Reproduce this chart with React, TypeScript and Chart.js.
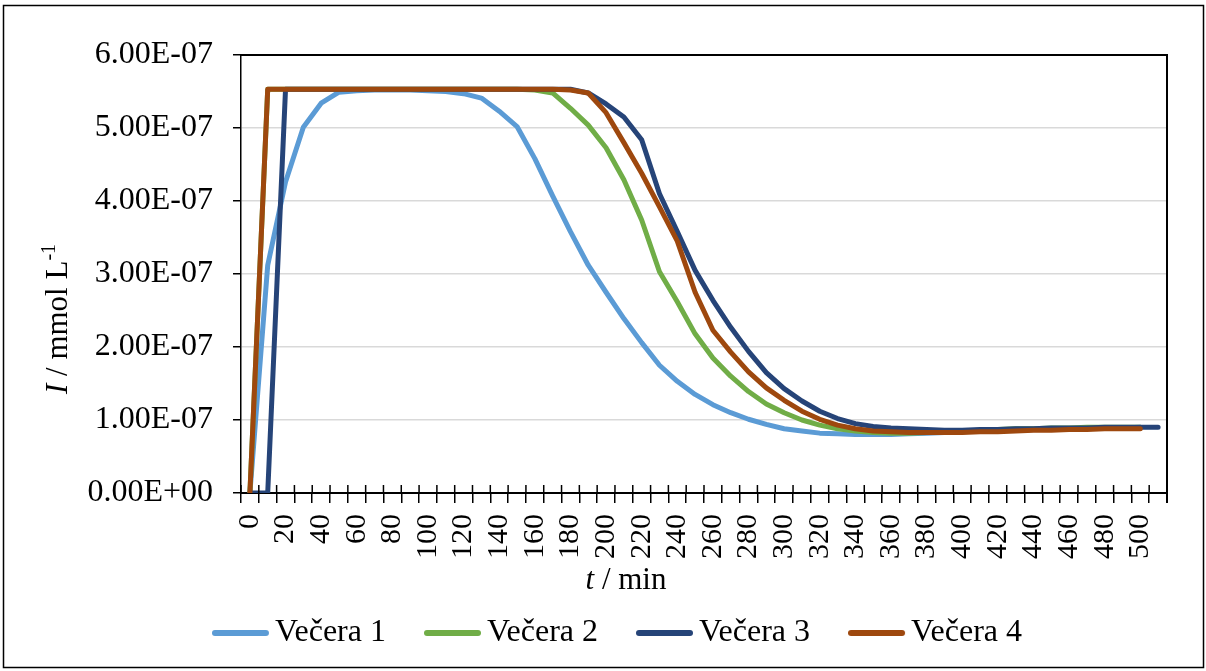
import React, { useEffect, useRef } from 'react';
import { Chart, registerables } from 'chart.js';

Chart.register(...registerables);

const timeLabels = [
  '0', '10', '20', '30', '40', '50', '60', '70', '80', '90',
  '100', '110', '120', '130', '140', '150', '160', '170', '180', '190',
  '200', '210', '220', '230', '240', '250', '260', '270', '280', '290',
  '300', '310', '320', '330', '340', '350', '360', '370', '380', '390',
  '400', '410', '420', '430', '440', '450', '460', '470', '480', '490',
  '500', '510',
];

const vecera1 = [
  0, 3.12e-7, 4.26e-7, 5.01e-7, 5.34e-7, 5.49e-7, 5.51e-7, 5.52e-7, 5.52e-7, 5.52e-7,
  5.51e-7, 5.5e-7, 5.47e-7, 5.41e-7, 5.23e-7, 5.02e-7, 4.58e-7, 4.07e-7, 3.58e-7, 3.12e-7,
  2.75e-7, 2.39e-7, 2.06e-7, 1.75e-7, 1.53e-7, 1.35e-7, 1.21e-7, 1.1e-7, 1.01e-7, 0.94e-7,
  0.88e-7, 0.85e-7, 0.82e-7, 0.81e-7, 0.8e-7, 0.8e-7, 0.8e-7, 0.81e-7, 0.82e-7, 0.83e-7,
  0.84e-7, 0.85e-7, 0.86e-7, 0.86e-7, 0.87e-7, 0.87e-7, 0.88e-7, 0.88e-7, 0.89e-7, 0.89e-7,
  0.9e-7,
];

const vecera2 = [
  0, 5.53e-7, 5.53e-7, 5.53e-7, 5.53e-7, 5.53e-7, 5.53e-7, 5.53e-7, 5.53e-7, 5.53e-7,
  5.53e-7, 5.53e-7, 5.53e-7, 5.53e-7, 5.53e-7, 5.53e-7, 5.52e-7, 5.48e-7, 5.27e-7, 5.04e-7,
  4.73e-7, 4.29e-7, 3.74e-7, 3.03e-7, 2.62e-7, 2.18e-7, 1.85e-7, 1.6e-7, 1.39e-7, 1.22e-7,
  1.1e-7, 1.0e-7, 0.93e-7, 0.88e-7, 0.85e-7, 0.83e-7, 0.82e-7, 0.82e-7, 0.83e-7, 0.84e-7,
  0.85e-7, 0.86e-7, 0.87e-7, 0.88e-7, 0.88e-7, 0.89e-7, 0.89e-7, 0.9e-7, 0.9e-7, 0.9e-7,
  0.9e-7,
];

const vecera3 = [
  0, 0, 5.53e-7, 5.53e-7, 5.53e-7, 5.53e-7, 5.53e-7, 5.53e-7, 5.53e-7, 5.53e-7,
  5.53e-7, 5.53e-7, 5.53e-7, 5.53e-7, 5.53e-7, 5.53e-7, 5.53e-7, 5.53e-7, 5.53e-7, 5.48e-7,
  5.33e-7, 5.15e-7, 4.84e-7, 4.1e-7, 3.58e-7, 3.05e-7, 2.64e-7, 2.27e-7, 1.94e-7, 1.65e-7,
  1.43e-7, 1.26e-7, 1.12e-7, 1.02e-7, 0.95e-7, 0.91e-7, 0.89e-7, 0.88e-7, 0.87e-7, 0.86e-7,
  0.86e-7, 0.87e-7, 0.87e-7, 0.88e-7, 0.88e-7, 0.89e-7, 0.89e-7, 0.89e-7, 0.9e-7, 0.9e-7,
  0.9e-7, 0.9e-7,
];

const vecera4 = [
  0, 5.53e-7, 5.53e-7, 5.53e-7, 5.53e-7, 5.53e-7, 5.53e-7, 5.53e-7, 5.53e-7, 5.53e-7,
  5.53e-7, 5.53e-7, 5.53e-7, 5.53e-7, 5.53e-7, 5.53e-7, 5.53e-7, 5.53e-7, 5.52e-7, 5.48e-7,
  5.21e-7, 4.8e-7, 4.38e-7, 3.92e-7, 3.45e-7, 2.75e-7, 2.23e-7, 1.93e-7, 1.66e-7, 1.44e-7,
  1.27e-7, 1.12e-7, 1.01e-7, 0.93e-7, 0.88e-7, 0.85e-7, 0.84e-7, 0.83e-7, 0.83e-7, 0.83e-7,
  0.83e-7, 0.84e-7, 0.84e-7, 0.85e-7, 0.86e-7, 0.86e-7, 0.87e-7, 0.87e-7, 0.88e-7, 0.88e-7,
  0.88e-7,
];

const seriesNames = ['Večera 1', 'Večera 2', 'Večera 3', 'Večera 4'];
const seriesData = [vecera1, vecera2, vecera3, vecera4];
const seriesColors = ['#5B9BD5', '#70AD47', '#264478', '#9E480E'];

const yMin = 0;
const yMax = 6e-7;
const yStep = 1e-7;

const FONT = '"Liberation Serif", "Times New Roman", serif';

const fmtExp = (v: number) => {
  const s = Number(v).toExponential(2);
  const [m, e] = s.split('e');
  const sign = e[0] === '-' ? '-' : '+';
  const digits = e.replace(/^[+-]/, '').padStart(2, '0');
  return `${m}E${sign}${digits}`;
};

const makeLegendSwatch = (color: string) => {
  const c = document.createElement('canvas');
  c.width = 64;
  c.height = 10;
  const g = c.getContext('2d')!;
  g.strokeStyle = color;
  g.lineWidth = 6;
  g.lineCap = 'round';
  g.beginPath();
  g.moveTo(3, 5);
  g.lineTo(54, 5);
  g.stroke();
  return c;
};

const drawRich = (ctx: CanvasRenderingContext2D, parts: { t: string; f: string; dy: number }[], x0: number, y0: number) => {
  let x = x0;
  for (const p of parts) {
    ctx.font = p.f;
    ctx.fillText(p.t, x, y0 + p.dy);
    x += ctx.measureText(p.t).width;
  }
};

const measureRich = (ctx: CanvasRenderingContext2D, parts: { t: string; f: string; dy: number }[]) => {
  let w = 0;
  for (const p of parts) {
    ctx.font = p.f;
    w += ctx.measureText(p.t).width;
  }
  return w;
};

const decorPlugin = {
  id: 'decor',
  beforeDraw(chart: any) {
    const { ctx, width, height } = chart;
    ctx.save();
    ctx.fillStyle = '#ffffff';
    ctx.fillRect(0, 0, width, height);
    ctx.restore();
  },
  afterDraw(chart: any) {
    const { ctx, chartArea: a } = chart;
    ctx.save();
    ctx.strokeStyle = '#000';
    // outer frame
    ctx.lineWidth = 1.5;
    ctx.strokeRect(3.5, 5.5, 1200, 662);
    // plot area top & right border
    ctx.lineWidth = 2;
    ctx.beginPath();
    ctx.moveTo(a.left, a.top);
    ctx.lineTo(a.right, a.top);
    ctx.lineTo(a.right, a.bottom + 10);
    ctx.stroke();
    // upward parts of the x tick marks
    const xs = chart.scales.x;
    const n = xs.ticks.length;
    const w = (xs.right - xs.left) / n;
    ctx.lineWidth = 1.5;
    ctx.beginPath();
    for (let i = 0; i <= n; i++) {
      const x = xs.left + i * w;
      ctx.moveTo(x, a.bottom - 8);
      ctx.lineTo(x, a.bottom);
    }
    ctx.stroke();

    ctx.fillStyle = '#000';
    ctx.textBaseline = 'alphabetic';
    ctx.textAlign = 'left';
    // y axis title
    const yParts = [
      { t: 'I', f: `italic 31px ${FONT}`, dy: 0 },
      { t: ' / mmol L', f: `31px ${FONT}`, dy: 0 },
      { t: '-1', f: `20px ${FONT}`, dy: -12 },
    ];
    const yw = measureRich(ctx, yParts);
    ctx.save();
    ctx.translate(67, 319);
    ctx.rotate(-Math.PI / 2);
    drawRich(ctx, yParts, -yw / 2, 0);
    ctx.restore();
    // x axis title
    const xParts = [
      { t: 't', f: `italic 31px ${FONT}`, dy: 0 },
      { t: ' / min', f: `31px ${FONT}`, dy: 0 },
    ];
    const xw = measureRich(ctx, xParts);
    drawRich(ctx, xParts, 626 - xw / 2, 589);
    ctx.restore();
  },
};

export default function App() {
  const canvasRef = useRef<HTMLCanvasElement | null>(null);

  useEffect(() => {
    document.body.style.margin = '0';
    const canvas = canvasRef.current;
    if (!canvas) return;
    Chart.defaults.font.family = FONT;

    const swatches = seriesColors.map(makeLegendSwatch);

    const chart = new Chart(canvas, {
      type: 'line',
      data: {
        labels: timeLabels,
        datasets: seriesNames.map((name, i) => ({
          label: name,
          data: seriesData[i],
          borderColor: seriesColors[i],
          backgroundColor: seriesColors[i],
          borderWidth: 5,
          pointRadius: 0,
          pointHoverRadius: 0,
          tension: 0,
          fill: false,
          borderJoinStyle: 'round' as const,
          borderCapStyle: 'round' as const,
          order: seriesNames.length - i,
        })),
      },
      options: {
        responsive: false,
        animation: false,
        events: [],
        layout: { padding: { left: 84, right: 39, top: 55, bottom: 12 } },
        plugins: {
          tooltip: { enabled: false },
          legend: {
            position: 'bottom',
            align: 'center',
            labels: {
              usePointStyle: true,
              pointStyleWidth: 30,
              padding: 55,
              color: '#000',
              font: { size: 32, family: FONT },
              sort: (a: any, b: any) => a.datasetIndex - b.datasetIndex,
              generateLabels: (ch: any) => {
                const items = (Chart.defaults.plugins.legend.labels as any).generateLabels(ch);
                return items.map((it: any) => ({ ...it, pointStyle: swatches[it.datasetIndex] }));
              },
            },
          },
        },
        scales: {
          x: {
            type: 'category',
            offset: true,
            afterFit: (scale: any) => { scale.height = 69; },
            grid: {
              offset: true,
              drawOnChartArea: false,
              drawTicks: true,
              tickLength: 10,
              tickColor: '#000',
              lineWidth: 1.5,
            },
            border: { display: true, color: '#000', width: 2 },
            ticks: {
              autoSkip: false,
              minRotation: 90,
              maxRotation: 90,
              padding: 11,
              color: '#000',
              font: { size: 30, family: FONT },
              callback: (_v: any, i: number) => (i % 2 === 0 && i <= 50 ? timeLabels[i] : ''),
            },
          },
          y: {
            type: 'linear',
            min: yMin,
            max: yMax,
            afterFit: (scale: any) => { scale.width = 157; },
            grid: {
              color: '#d9d9d9',
              lineWidth: 1.5,
              drawTicks: true,
              tickLength: 8,
              tickColor: '#000',
            },
            border: { display: true, color: '#000', width: 1.5 },
            ticks: {
              stepSize: yStep,
              padding: 20,
              color: '#000',
              font: { size: 32, family: FONT },
              callback: (v: any) => fmtExp(Number(v)),
            },
          },
        },
      },
      plugins: [decorPlugin],
    } as any);

    return () => chart.destroy();
  }, []);

  return (
    <div style={{ width: 1206, height: 671, position: 'relative' }}>
      <canvas ref={canvasRef} width={1206} height={671} style={{ display: 'block' }} />
    </div>
  );
}
